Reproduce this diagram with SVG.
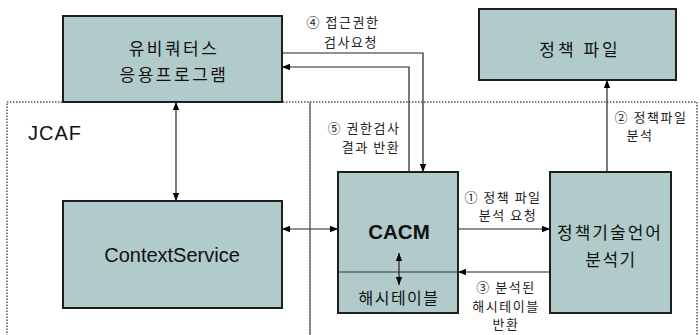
<svg xmlns="http://www.w3.org/2000/svg" width="700" height="335" viewBox="0 0 700 335">
<defs>
<marker id="ah" viewBox="0 0 10 10" refX="10" refY="5" markerWidth="8" markerHeight="8" markerUnits="userSpaceOnUse" orient="auto-start-reverse">
<path d="M0,1 L10,5 L0,9 z" fill="#000"/>
</marker>
<style>
.box{fill:#b0cbca;stroke:#1e1e1e;stroke-width:2}
.dot{fill:none;stroke:#555;stroke-width:1.5;stroke-dasharray:1.5,1.5}
.ln{fill:none;stroke:#222;stroke-width:1.2}
text{font-family:"Noto Sans CJK KR","Liberation Sans",sans-serif;fill:#111}
.t{font-size:17px;text-anchor:middle;letter-spacing:2.5px}
.s{font-size:13px;text-anchor:middle;letter-spacing:1.5px;fill:#222}
.b{font-family:"Liberation Sans",sans-serif;font-weight:bold;font-size:20.5px;text-anchor:middle}
</style>
</defs>
<g id="regions">
<rect class="dot" x="7" y="102" width="303" height="240"/>
<rect class="dot" x="310" y="102" width="387" height="240"/>
<text x="28" y="140" style="font-family:'Liberation Sans',sans-serif;font-size:20px;letter-spacing:1px">JCAF</text>
</g>
<g id="app">
<rect class="box" x="63" y="16" width="219" height="86"/>
<text class="t" x="174" y="55">유비쿼터스</text>
<text class="t" x="174" y="81">응용프로그램</text>
</g>
<g id="policyfile">
<rect class="box" x="479" y="9" width="197" height="71"/>
<text class="t" x="580" y="56" style="letter-spacing:3px">정책 파일</text>
</g>
<g id="contextservice">
<rect class="box" x="63" y="201" width="219" height="107"/>
<text x="172" y="262" style="font-family:'Liberation Sans',sans-serif;font-size:20px;text-anchor:middle">ContextService</text>
</g>
<g id="cacm">
<rect class="box" x="338" y="172" width="120" height="141"/>
<line x1="338" y1="272" x2="458" y2="272" stroke="#333" stroke-width="1"/>
<text class="b" x="399" y="239">CACM</text>
<text class="t" x="399" y="304" style="font-size:16px;letter-spacing:1.5px">해시테이블</text>
</g>
<g id="parser">
<rect class="box" x="550" y="172" width="121" height="141"/>
<text class="t" x="610" y="239" style="letter-spacing:2px">정책기술언어</text>
<text class="t" x="611" y="266" style="letter-spacing:1.5px">분석기</text>
</g>
<g id="connectors">
<line class="ln" x1="176" y1="102" x2="176" y2="201" marker-start="url(#ah)" marker-end="url(#ah)"/>
<line class="ln" x1="282" y1="229" x2="338" y2="229" marker-start="url(#ah)" marker-end="url(#ah)"/>
<polyline class="ln" points="282,53 423,53 423,172" marker-end="url(#ah)"/>
<polyline class="ln" points="409,172 409,67 282,67" marker-end="url(#ah)"/>
<line class="ln" x1="458" y1="229" x2="550" y2="229" marker-end="url(#ah)"/>
<line class="ln" x1="550" y1="272" x2="458" y2="272" marker-end="url(#ah)"/>
<line class="ln" x1="607" y1="172" x2="607" y2="80" marker-end="url(#ah)"/>
<line class="ln" x1="399" y1="253" x2="399" y2="285" marker-start="url(#ah)" marker-end="url(#ah)"/>
</g>
<g id="labels">
<text class="s" x="343" y="27">④ 접근권한</text>
<text class="s" x="351" y="47">검사요청</text>
<text class="s" x="364" y="133">⑤ 권한검사</text>
<text class="s" x="371" y="152">결과 반환</text>
<text class="s" x="651" y="122">② 정책파일</text>
<text class="s" x="640" y="140">분석</text>
<text class="s" x="503" y="202">① 정책 파일</text>
<text class="s" x="508" y="220">분석 요청</text>
<text class="s" x="506" y="292">③ 분석된</text>
<text class="s" x="506" y="311">해시테이블</text>
<text class="s" x="506" y="329">반환</text>
</g>
</svg>
